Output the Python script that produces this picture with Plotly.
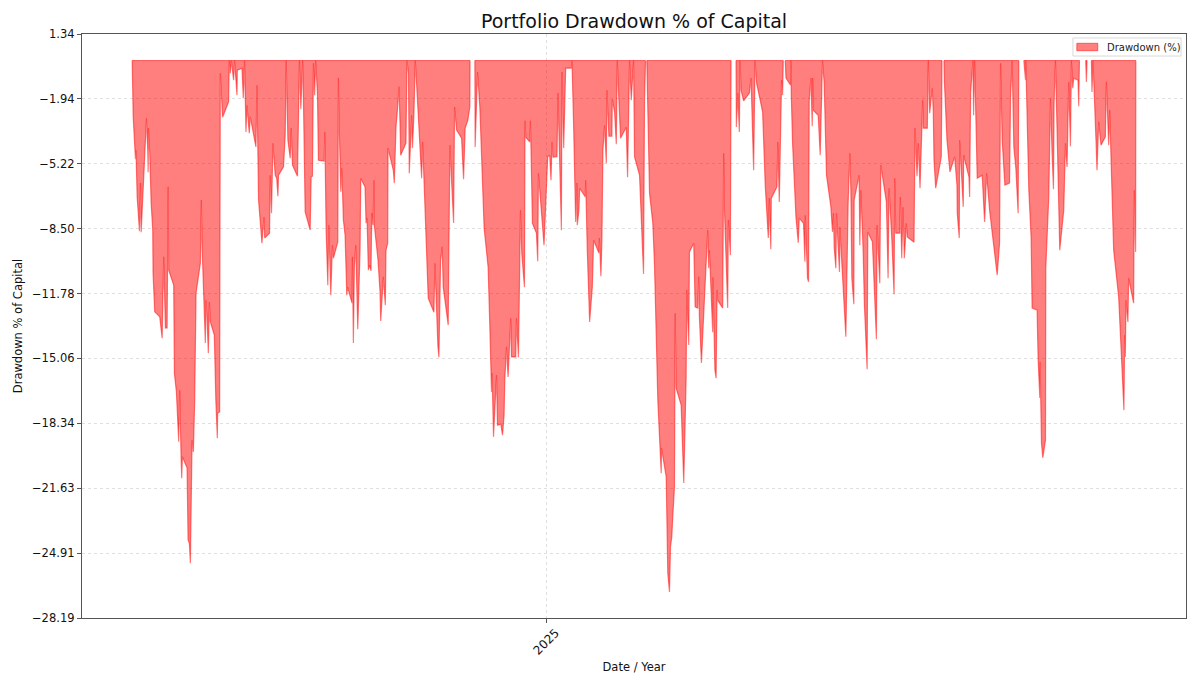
import pandas as pd
import plotly.graph_objects as go

# values, x is days from 1 Jan 2025
days_2024 = [
    -207.65, -207.5, -207.15, -206.35, -206, -205.75, -205.15, -204, -203.5, -203.15,
    -200.5, -199.85, -199.65, -199.5, -198.85, -198.15, -197.35, -197.2, -197, -196.35,
    -193.85, -192.65, -191.85, -191, -190.15, -189.65, -189.35, -186.85, -186.5, -185.5,
    -184.35, -183.85, -183.15, -182.85, -182.5, -180.15, -179.65, -179, -178.5, -177.65,
    -177, -176.75, -176.35, -175.65, -173.5, -173, -172.65, -171.85, -171, -170.75,
    -170.25, -169.5, -169, -168.5, -166.5, -165.75, -165, -164.85, -163.85, -163.5,
    -162.35, -159.35, -159, -158.5, -158, -156.85, -156.35, -155.15, -155, -152.65,
    -152, -151.35, -150.65, -150.15, -149, -148.5, -145.65, -145.15, -144.35, -142.65,
    -141.65, -141.25, -138.85, -138.5, -137.85, -137.15, -136, -135.25, -134.65, -134.35,
    -131.85, -131, -130.5, -129.65, -128.5, -128, -127.35, -124.85, -124.15, -123.85,
    -123.15, -122.25, -121.85, -121, -118.5, -118, -117.35, -116.85, -116.25, -115.75,
    -114.85, -114.35, -111.5, -111.15, -110.5, -109.65, -109.15, -108.15, -107.35, -106.85,
    -104.65, -104.35, -104, -103.15, -102.65, -101.85, -101, -100.15, -99.75, -97.5,
    -97.35, -97.15, -96.85, -96.35, -95.65, -94.65, -93.5, -93.15, -91, -90.5,
    -90, -89.35, -88.75, -88, -87.65, -87, -86.5, -86.35, -84.5, -83.5,
    -83.15, -81.85, -80.85, -80.5, -79.65, -79.5, -76.85, -76.35, -75.5, -74.85,
    -74, -73.5, -73.15, -70.5, -70, -69.25, -68.85, -67.65, -67.25, -66.5,
    -65.85, -65, -62.65, -62.15, -61, -59.35, -56.5, -56, -54.5, -54,
    -53.15, -52.35, -51.85, -49.35, -48.5, -46.65, -46.15, -45.15, -42.65, -41.65,
    -40.85, -39.5, -38.5, -38.4, -36, -35.85, -34.65, -33.5, -31.35, -29.35,
    -28.5, -27.65, -27.35, -26.65, -25.15, -24.65, -23, -22.15, -21.35, -21,
    -20.15, -19.35, -18, -17.65, -15.5, -15.15, -14.15, -13.15, -12.5, -11.15,
    -10.85, -10.5, -8.5, -8.15, -7.15, -5.15, -4.5, -4.15, -1.35, -0.5,
]
drawdown_2024 = [
    0, -1.10, -2.82, -4.37, -4.99, -4.54, -6.91, -8.63, -6.20, -8.68,
    -2.92, -4.54, -5.65, -3.42, -4.69, -7.21, -8.58, -10.75, -11.36, -12.71,
    -12.96, -14.04, -9.93, -13.53, -13.52, -6.39, -10.60, -11.36, -15.81, -16.76,
    -19.28, -16.67, -20.04, -21.12, -20.04, -20.61, -24.25, -24.41, -25.42, -19.20,
    -19.79, -17.58, -17.26, -11.77, -10.25, -7.06, -9.34, -11.77, -14.29, -12.12,
    -12.78, -14.80, -12.21, -13.22, -13.89, -17.17, -19.10, -17.83, -17.77, -0.64,
    -2.87, -2.09, 0, -0.64, 0, -1.00, 0, -1.75, -0.49, -0.39,
    -1.91, 0, -3.61, -2.26, -3.68, -2.85, -4.37, -1.25, -7.06, -9.24,
    -7.91, -8.98, -8.73, -5.80, -7.72, -4.18, -5.80, -5.95, -6.86, -5.80,
    -5.38, -3.79, 0, -4.03, -4.94, -3.42, -5.29, -5.85, -1.08, 0,
    -2.46, 0, -2.01, -7.65, -8.57, -5.89, -5.85, -0.14, -1.75, 0,
    -1.65, -5.04, -5.08, -3.61, -8.57, -11.36, -8.33, -11.87, -9.34, -10.00,
    -9.17, -0.89, -3.02, -6.64, -5.45, -8.07, -8.83, -11.87, -11.46, -12.27,
    -9.93, -12.46, -14.28, -10.40, -9.34, -13.59, -9.59, -5.95, -6.39, -8.23,
    -7.97, -10.60, -10.35, -10.64, -7.72, -8.33, -6.05, -8.33, -10.10, -11.70,
    -13.17, -10.94, -12.37, -9.59, -9.24, -4.43, -5.55, -6.20, -3.36, -2.60,
    -1.33, -3.10, -4.79, -4.18, 0, -0.64, -5.70, -2.77, -4.43, -2.66,
    0, -1.50, -5.95, -4.12, -7.72, -12.02, -12.73, -10.25, -14.45, -15.00,
    -10.10, -9.42, -11.45, -13.38, -4.28, -8.21, -2.35, -3.52, -3.93, -6.00,
    -3.42, -3.02, -2.35, 0, 0, -4.37, -0.58, -2.35, -8.48, -10.44,
    -13.43, -16.76, -15.81, -19.03, -15.91, -18.44, -18.39, -18.95, -17.93, -16.16,
    -14.48, -16.00, -13.03, -14.99, -14.99, -13.03, -15.00, -7.57, -9.74, -11.46,
    -3.05, -3.88, -4.12, -3.05, -8.23, -8.73, -10.15, -5.70, -9.34, -7.57,
]
days_2025 = [
    0.5, 1.5, 2.15, 2.65, 3.15, 5.15, 5.65, 7.35, 7.65, 8.5,
    9.5, 12.35, 12.65, 13.5, 14.5, 15.15, 15.3, 16.15, 16.5, 19.35,
    19.5, 20.35, 21.5, 22.85, 23.5, 26.15, 26.4, 27.15, 27.65, 28.15,
    29, 29.85, 30.15, 31.15, 32.65, 32.85, 34, 34.85, 35.35, 36.15,
    37, 39.85, 40.5, 41.5, 42.35, 43.5, 44, 46.5, 47.5, 48.5,
    49, 49.5, 50.15, 51.5, 53.15, 54, 55.65, 57.35, 57.5, 59.85,
    60.65, 61.5, 62, 62.65, 63.15, 64, 64.35, 64.85, 67.35, 68.65,
    69.85, 70.15, 71.15, 71.5, 73.65, 74.35, 75.65, 76.15, 76.5, 77.5,
    80.65, 81.15, 81.5, 82.65, 83.15, 83.25, 84.25, 84.85, 85.35, 85.65,
    88.15, 88.65, 89, 90.65, 91, 92, 92.35, 94.85, 95, 95.75,
    96.5, 96.85, 97.35, 98.65, 101.5, 102.35, 103.15, 103.65, 104.35, 105.15,
    108.15, 109.5, 111, 111.5, 112.25, 112.5, 115.35, 115.75, 116.5, 117,
    117.65, 118.15, 118.5, 119.5, 119.85, 122.15, 122.35, 122.5, 123.15, 124.85,
    126, 126.5, 128.65, 129.35, 129.5, 130.65, 131.15, 131.5, 132.35, 133,
    133.25, 133.5, 136, 137, 137.5, 138.15, 139, 139.35, 140.15, 142.35,
    143.15, 143.65, 144, 144.85, 145.15, 146.65, 146.85, 149.85, 150.65, 151,
    151.85, 152.35, 152.85, 153.85, 154, 156.5, 156.85, 157.35, 158.5, 159.15,
    160.5, 160.85, 163.15, 163.5, 165.15, 165.5, 166.85, 167.35, 170.15, 171,
    171.5, 172.85, 174, 174.35, 174.85, 176.85, 177.15, 177.85, 178.5, 179.15,
    180.15, 180.65, 184, 184.5, 185.5, 186.15, 187, 188.35, 188.65, 190.65,
    191.15, 191.85, 193.15, 193.65, 194, 194.85, 197.65, 198, 199, 199.25,
    200.5, 202, 204.35, 205.5, 205.65, 206.65, 206.85, 207.75, 208.65, 208.85,
    211.5, 211.85, 212.35, 213.5, 213.85, 214.35, 215.65, 218.15, 219.35, 220.35,
    221.85, 225.65, 226.85, 227.35, 228.15, 229.5, 231.85, 232.35, 233.15, 234,
    235, 236.15, 236.5, 239, 239.25, 239.85, 240, 240.65, 241.5, 242.65,
    243.15, 245.65, 246.15, 247, 247.15, 247.85, 248.5, 249.85, 250, 251.5,
    252.35, 253.15, 253.85, 254.15, 254.85, 255.65, 256.5, 257, 259, 259.85,
    260.65, 261, 261.5, 262.35, 262.85, 263.5, 264, 266.15, 266.5, 266.85,
    270, 270.35, 270.65, 272.85, 273.15, 273.65, 274.5, 275.15, 275.65, 276.5,
    277.65, 279.85, 280.35, 281.5, 282, 283.15, 284, 286.5, 289.15, 289.5,
    289.85, 290.15, 291.15, 291.5, 294, 294.35, 295, 295.1,
]
drawdown_2025 = [
    -4.87, -4.79, -6.05, -4.12, -4.89, -4.87, -1.65, -8.58, -0.58, -4.43,
    -0.39, -0.39, 0, -3.36, -8.16, -6.20, -8.33, -7.57, -6.46, -6.90,
    -6.05, -9.68, -13.22, -11.45, -9.09, -9.74, -8.98, -10.91, -9.09, -4.54,
    -3.27, -5.19, -1.50, -3.83, -3.83, -1.96, -2.61, -4.23, 0, -2.01,
    -3.93, -3.37, -5.90, 0, -2.01, 0, -4.87, -5.80, -7.92, -10.80,
    -2.01, 0, 0, -6.71, -8.23, -10.35, -17.17, -20.87, -19.60, -21.05,
    -25.92, -26.87, -24.59, -24.09, -23.07, -21.56, -12.78, -16.57, -17.43, -21.36,
    -16.00, -11.61, -14.39, -9.68, -9.24, -12.46, -12.52, -10.94, -12.98, -15.29,
    -8.58, -10.50, -9.59, -12.46, -13.74, -10.96, -15.65, -16.06, -11.61, -12.12,
    -12.52, -4.69, -7.42, -12.52, -8.07, -9.84, 0, 0, -3.36, -1.65,
    -3.61, 0, -1.50, -2.04, -1.65, -0.89, -4.87, -5.55, 0, -1.15,
    -2.60, -6.39, -8.97, -6.96, -9.54, -6.96, -6.39, -4.12, -7.16, -4.18,
    -1.00, -1.75, 0, 0, -0.89, -1.25, 0, -1.65, -4.18, -7.91,
    -9.22, -7.97, -8.23, -10.18, -7.82, -11.01, -11.19, -2.01, -0.89, -3.32,
    -0.89, -2.51, -2.77, -4.79, -2.77, 0, -1.15, -2.36, -5.80, -7.40,
    -8.67, -7.72, -9.44, -10.50, -7.72, -10.69, -8.43, -13.97, -9.74, -7.21,
    -4.69, -6.56, -11.01, -12.32, -7.06, -5.80, -9.34, -6.56, -9.59, -12.37,
    -15.61, -8.67, -9.17, -9.95, -14.09, -8.33, -11.26, -5.29, -7.15, -11.01,
    -6.46, -8.98, -11.82, -5.95, -8.73, -8.73, -6.90, -10.00, -7.42, -10.00,
    -8.23, -8.92, -9.19, -3.42, -5.85, -4.18, -6.46, -2.01, -3.42, -3.42,
    0, -2.66, -1.40, -2.60, -5.04, -6.46, -4.87, 0, 0, -1.15,
    -4.03, -5.63, -4.87, -6.30, -7.72, -8.98, -4.03, -5.80, -7.40, -4.79,
    -5.89, -6.90, -1.65, 0, -2.77, 0, -5.95, -5.80, -8.16, -5.70,
    -7.57, -10.85, -9.24, -0.14, -4.03, -6.30, -6.20, -1.91, 0, -4.38,
    -5.45, -7.72, 0, 0, -0.49, -1.00, 0, -2.60, -6.56, -8.92,
    -12.52, -12.62, -15.05, -17.07, -15.24, -19.35, -20.09, -19.20, -10.50, -6.90,
    -1.91, -4.69, -6.51, -2.16, 0, -3.52, -8.07, -9.59, -7.57, -4.18,
    -5.38, -2.60, -1.10, -4.33, 0, -1.40, -0.89, -1.00, -2.31, 0,
    0, -1.08, 0, 0, -1.59, 0, -1.86, -4.03, -5.55, -3.10,
    -4.28, -3.86, -1.08, -4.28, -2.51, -6.05, -9.59, -11.95, -17.68, -13.89,
    -14.99, -12.12, -13.22, -11.01, -12.27, -6.56, -9.68, 0,
]
y_ticks = [1.34, -1.94, -5.22, -8.50, -11.78, -15.06, -18.34, -21.63, -24.91, -28.19]

df = pd.DataFrame({"days": days_2024 + days_2025, "drawdown": drawdown_2024 + drawdown_2025})
start_2025 = pd.Timestamp("2025-01-01")
df["date"] = start_2025 + pd.to_timedelta(df["days"], unit="D")

# same 5% side margin a plain line chart would get
pad = (df["days"].max() - df["days"].min()) * 0.05
x_range = [start_2025 + pd.Timedelta(days=df["days"].min() - pad),
           start_2025 + pd.Timedelta(days=df["days"].max() + pad)]

# no drawdown between two zero points: blank row so the line and fill break there
zero_runs = df[(df["drawdown"] == 0) & (df["drawdown"].shift(-1) == 0)]
breaks = pd.DataFrame({"date": zero_runs["date"] + pd.Timedelta(minutes=1), "drawdown": None})
df = pd.concat([df, breaks]).sort_values("date")
df["drawdown"] = pd.to_numeric(df["drawdown"])

font = "DejaVu Sans"
grid_color = "rgba(120,120,120,0.24)"
axis_color = "#555555"
area_color = "rgba(255,0,0,0.5)"

fig = go.Figure()
fig.add_trace(go.Scatter(x=df["date"], y=df["drawdown"], mode="lines", fill="tozeroy",
                         name="Drawdown (%)", fillcolor=area_color, showlegend=False,
                         line=dict(color=area_color, width=1.2)))
# top edge of the filled area, broken at the same places
fig.add_trace(go.Scatter(x=df["date"], y=df["drawdown"] * 0, mode="lines", showlegend=False,
                         hoverinfo="skip", line=dict(color=area_color, width=1.2)))

# the page sits 8px in from the window corner, so the figure is 8px smaller
fig.update_layout(
    width=1192, height=678, autosize=False,
    margin=dict(l=74, r=14, t=26, b=68),
    paper_bgcolor="white", plot_bgcolor="white",
    font=dict(family=font, color="#111111", size=11),
    title=dict(text="Portfolio Drawdown % of Capital", x=0.5252, xanchor="center",
               y=0.981, yanchor="middle", font=dict(size=19, color="#111111")),
    showlegend=False,
)

# small legend box, plotly's own legend is about twice as tall as this one
fig.add_shape(type="rect", xref="paper", yref="paper", x0=0.8976, x1=0.9955, y0=0.9623, y1=0.9932,
              fillcolor="white", line=dict(color="#d9d9d9", width=1))
fig.add_shape(type="rect", xref="paper", yref="paper", x0=0.9011, x1=0.9201, y0=0.9714, y1=0.9841,
              fillcolor=area_color, line=dict(color=area_color, width=1))
fig.add_annotation(text="Drawdown (%)", xref="paper", yref="paper", x=0.9273, y=0.9777,
                   xanchor="left", yanchor="middle", showarrow=False, borderpad=0,
                   font=dict(size=10, color="#222222"))

fig.update_xaxes(range=x_range, type="date", tickvals=[start_2025], ticktext=["2025"],
                 automargin=False, tickangle=-45, ticks="outside", ticklen=4, tickcolor=axis_color,
                 tickfont=dict(size=12), ticklabelshift=9, ticklabelstandoff=-2,
                 showline=True, linecolor=axis_color, linewidth=1.3, mirror=True,
                 showgrid=True, gridcolor=grid_color, griddash="dot", gridwidth=0.8, zeroline=False,
                 title=dict(text="Date / Year", standoff=6, font=dict(size=11.5)))
fig.update_yaxes(range=[y_ticks[-1], y_ticks[0]], tickvals=y_ticks, automargin=False,
                 ticktext=[f"{v:.2f}".replace("-", "\u2212") for v in y_ticks],
                 ticks="outside", ticklen=4, tickcolor=axis_color, tickfont=dict(size=11.5),
                 showline=True, linecolor=axis_color, linewidth=1.3, mirror=True,
                 showgrid=True, gridcolor=grid_color, griddash="dot", gridwidth=0.8, zeroline=False,
                 title=dict(text="Drawdown % of Capital", standoff=6, font=dict(size=11.5)))

fig.write_html("out.html")
